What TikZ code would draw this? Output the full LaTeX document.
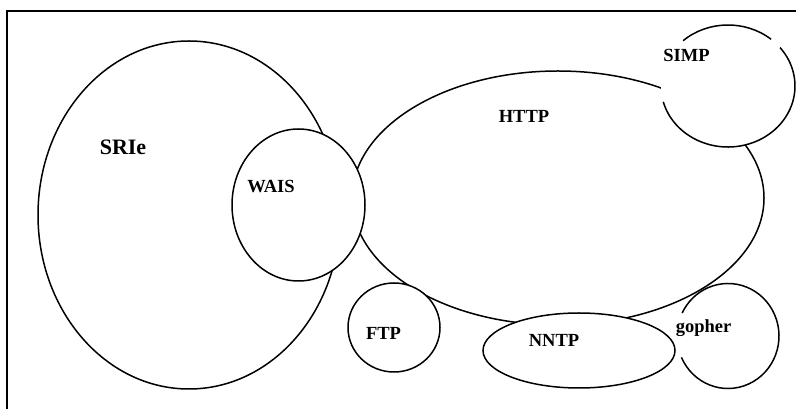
\documentclass[tikz,border=0pt]{standalone}
\usepackage{fontspec}
\setmainfont{Liberation Serif}
\usetikzlibrary{calc}
\begin{document}
\begin{tikzpicture}[x=1pt,y=1pt,
  shp/.style={draw=black,line width=1.5pt,fill=white},
  arcline/.style={draw=black,line width=1.5pt},
  lbl/.style={font=\bfseries\fontsize{18.5}{20}\selectfont,anchor=base,inner sep=0pt},
  biglbl/.style={font=\bfseries\fontsize{22}{24}\selectfont,anchor=base,inner sep=0pt}]
\useasboundingbox (0,0) rectangle (796,409);
% frame (top and left edges)
\coordinate (fbl) at (7,0);
\coordinate (ftl) at (7,398);
\coordinate (ftr) at (796,398);
\draw[line width=1.4pt] (fbl) -- (ftl) -- (ftr);
% SRIe
\draw[shp] (189,194) ellipse[x radius=151,y radius=174];
% HTTP
\draw[shp] (558,211) ellipse[x radius=206,y radius=127];
% WAIS
\draw[shp] (298.5,204) ellipse[x radius=66.5,y radius=76];
% SIMP (with gaps)
\fill[white] (728,323) ellipse[x radius=67,y radius=61];
\draw[arcline] ($(728,323)+(50:67 and 61)$) arc[start angle=50,end angle=132,x radius=67,y radius=61];
\draw[arcline] ($(728,323)+(195:67 and 61)$) arc[start angle=195,end angle=399,x radius=67,y radius=61];
% FTP
\draw[shp] (394,81.5) ellipse[x radius=46,y radius=44.5];
% NNTP
\draw[shp] (579,58.5) ellipse[x radius=96,y radius=37.5];
% gopher (with gap)
\fill[white] (728,73) ellipse[x radius=51,y radius=52.5];
\draw[arcline] ($(728,73)+(204:51 and 52.5)$) arc[start angle=204,end angle=514,x radius=51,y radius=52.5];
% labels
\node[biglbl] (sriel) at (123,254) {SRIe};
\node[lbl] (waisl) at (271,216) {WAIS};
\node[lbl] (httpl) at (524,286) {HTTP};
\node[lbl] (simpl) at (686.5,347) {SIMP};
\node[lbl] (ftpl) at (383.5,69) {FTP};
\node[lbl] (nntpl) at (554,62) {NNTP};
\node[lbl] (gopherl) at (703.5,76) {gopher};
\end{tikzpicture}
\end{document}
